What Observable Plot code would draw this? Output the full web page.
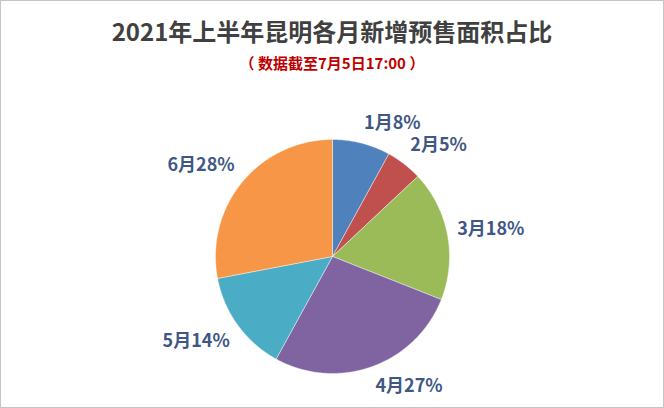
<!DOCTYPE html>
<html><head><meta charset="utf-8">
<script src="https://cdn.jsdelivr.net/npm/d3@7"></script>
<script src="https://cdn.jsdelivr.net/npm/@observablehq/plot@0.6"></script>
<style>
body{margin:0;background:#fff;}
#wrap{position:relative;width:662px;height:406px;border:1px solid #c4c4c4;background:#fff;overflow:hidden;font-family:"Noto Sans CJK SC","Noto Sans",sans-serif;}
#title{position:absolute;left:0;right:0;top:14px;text-align:center;font-size:24px;font-weight:bold;color:#404040;line-height:32px;}
#sub{position:absolute;left:0;right:0;top:52px;text-align:center;font-size:15px;font-weight:bold;color:#c00000;line-height:20px;}
#chart{position:absolute;left:0;top:0;}
</style></head>
<body><div id="wrap"><div id="chart"></div><div id="title"></div><div id="sub"></div></div>
<script>
const titleText = "2021年上半年昆明各月新增预售面积占比";
const subtitleText = "（ 数据截至7月5日17:00 ）";
const months = ["1月","2月","3月","4月","5月","6月"];
const shares = [8,5,18,27,14,28];
const colors = ["#4f81bd","#c0504d","#9bbb59","#8064a2","#4bacc6","#f79646"];

document.getElementById("title").textContent = titleText;
document.getElementById("sub").textContent = subtitleText;

const arcs = d3.pie().sort(null).value(d => d)(shares);
const poly = [];
arcs.forEach((a, i) => {
  poly.push({m: months[i], x: 0, y: 0});
  const n = Math.max(8, Math.ceil((a.endAngle - a.startAngle) / 0.01));
  for (let k = 0; k <= n; k++) {
    const t = a.startAngle + (a.endAngle - a.startAngle) * k / n;
    poly.push({m: months[i], x: Math.sin(t), y: Math.cos(t)});
  }
  poly.push({m: months[i], x: 0, y: 0});
});
const LR = 1.085;      // label anchor radius (pie radius = 1)
const halfH = 0.09;    // half label height in radius units
const labels = arcs.map((a, i) => {
  const t = (a.startAngle + a.endAngle) / 2;
  const s = Math.sin(t), c = Math.cos(t);
  return {m: months[i], text: months[i] + shares[i] + "%", x: LR * s,
          y: LR * c + halfH * Math.max(-1, Math.min(1, 2 * c)), right: s >= 0};
});

const plot = Plot.plot({
  width: 662, height: 406, margin: 0,
  x: {domain: [-1, 1], range: [214, 448], axis: null},
  y: {domain: [-1, 1], range: [372, 138], axis: null},
  color: {domain: months, range: colors},
  marks: [
    Plot.line(poly, {x: "x", y: "y", z: "m", fill: "m", stroke: "#ffffff", strokeWidth: 0.6, strokeOpacity: 0.7, curve: "linear"}),
    Plot.text(labels.filter(d => d.right), {x: "x", y: "y", text: "text", textAnchor: "start", fill: "#3f5883", fontSize: 18, fontWeight: "bold", fontFamily: "Noto Sans CJK SC"}),
    Plot.text(labels.filter(d => !d.right), {x: "x", y: "y", text: "text", textAnchor: "end", fill: "#3f5883", fontSize: 18, fontWeight: "bold", fontFamily: "Noto Sans CJK SC"})
  ]
});
document.getElementById("chart").appendChild(plot);
</script></body></html>
